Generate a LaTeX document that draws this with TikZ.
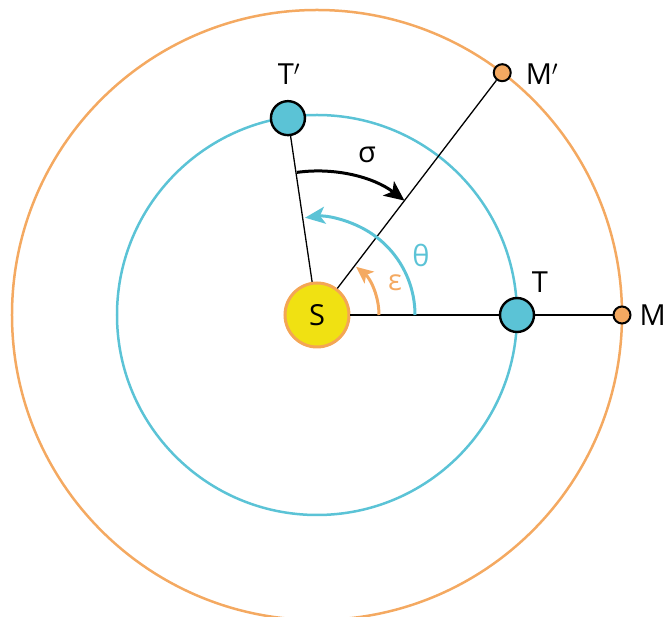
\documentclass[tikz,border=0pt]{standalone}
\usepackage{fontspec}
\setmainfont{Open Sans}
\usetikzlibrary{arrows.meta}
\definecolor{orbitcyan}{HTML}{5BC3D6}
\definecolor{orbitorange}{HTML}{F4A961}
\definecolor{sunyellow}{HTML}{F0E112}
\definecolor{sunorange}{HTML}{F4A655}
\begin{document}
\begin{tikzpicture}[x=1pt, y=1pt, font=\fontsize{29}{34}\selectfont,
            planet/.style={circle, draw, line width=2.4pt, fill=orbitcyan, minimum size=34pt, inner sep=0pt},
            moon/.style={circle, draw, line width=2pt, fill=orbitorange, minimum size=17pt, inner sep=0pt},
            sun/.style={circle, draw=sunorange, line width=3pt, fill=sunyellow, minimum size=64pt, inner sep=0pt}
            ]
            \useasboundingbox (-317,-302) rectangle (350,315);
            % orbits
            \draw[orbitorange, line width=2.5pt] (0,0) circle (305);
            \draw[orbitcyan, line width=2.5pt] (0,0) circle (200);

            \node[sun] (s) at (0,0) {S};
            \node[planet] (t) at (200,0) {};
            \node[moon] (m) at (305,0) {};
            \node[planet] (t2) at (98.4:199) {};
            \node[moon] (m2) at (52.6:305) {};

            \node (tl) at (223,33) {T};
            \node[anchor=east, inner sep=0pt] (ml) at (349,0) {M};
            \node (t2l) at (-28,241) {T$'$};
            \node (m2l) at (225,241) {M$'$};

            \draw[line width=2.2pt] (s)--(t)--(m);
            \draw[line width=1.3pt] (s)--(t2);
            \draw[line width=1.3pt] (s)--(m2);

            % angles
            \draw[line width=3pt, -{Stealth[length=20pt, width=18pt, inset=5pt]}] (98:144) arc (98:52.6:144);
            \draw[orbitcyan, line width=3pt, -{Stealth[length=20pt, width=17pt, inset=5pt]}] (0:98) arc (0:97:98);
            \draw[orbitorange, line width=3pt, -{Stealth[length=17pt, width=15pt, inset=4pt]}] (0:62) arc (0:51:62);
            \node (sig) at (50,160) {σ};
            \node[orbitcyan] (th) at (104,60) {θ};
            \node[orbitorange] (ep) at (78,32) {ε};
\end{tikzpicture}
\end{document}
